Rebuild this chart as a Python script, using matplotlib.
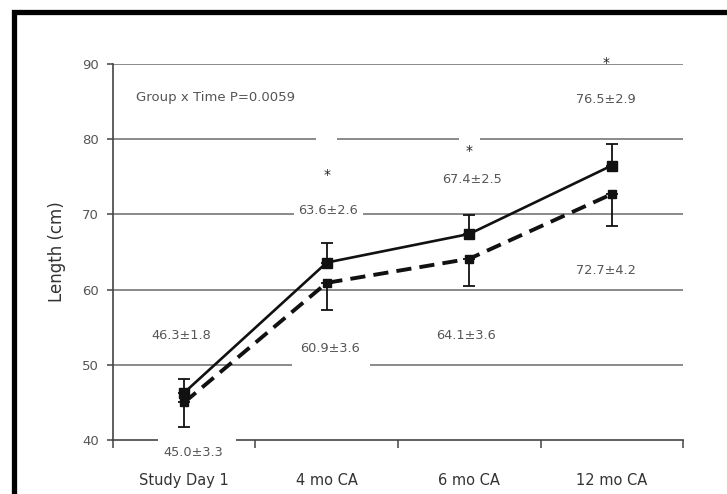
import matplotlib
matplotlib.use("Agg")
import matplotlib.pyplot as plt
from matplotlib.patches import Rectangle
import numpy as np

categories = ["Study Day 1", "4 mo CA", "6 mo CA", "12 mo CA"]
group_a_mean = [46.3, 63.6, 67.4, 76.5]   # solid line
group_a_sd = [1.8, 2.6, 2.5, 2.9]
group_b_mean = [45.0, 60.9, 64.1, 72.7]   # dashed line
group_b_sd = [3.3, 3.6, 3.6, 4.2]
y_ticks = [40, 50, 60, 70, 80, 90]
significant = [False, True, True, True]
stat_text = "Group x Time P=0.0059"

plt.rcParams['font.family'] = ['DejaVu Sans']
fig = plt.figure(figsize=(7.27, 4.94), dpi=100)
ax = fig.add_axes([0.1554, 0.1093, 0.7841, 0.7611])

x = np.arange(len(categories))
txt_col = "#555555"

# gridlines
for yv in y_ticks[1:]:
    ax.axhline(yv, color="#777777", lw=1.2, zorder=1)

# series
ax.errorbar(x, group_a_mean, yerr=[np.zeros(len(x)), group_a_sd], color="#111111",
            lw=1.9, marker="s", ms=6.5, capsize=4, elinewidth=1.3, capthick=1.3, zorder=4)
ax.errorbar(x, group_b_mean, yerr=[group_b_sd, np.zeros(len(x))], color="#111111",
            lw=2.8, ls=(0, (3.9, 2.1)), marker="s", ms=5.5, capsize=4, elinewidth=1.3,
            capthick=1.3, zorder=4)

def lab(m, s):
    return f"{m:.1f}\u00b1{s:.1f}"

box = dict(boxstyle="square,pad=0.35", fc="white", ec="none")
# value labels (positions are layout offsets relative to data)
a_offsets = [(-0.02, 7.6), (0.01, 6.9), (0.02, 7.3), (-0.04, 8.8)]
b_offsets = [(0.06, -6.6), (0.02, -8.7), (-0.02, -10.2), (-0.04, -10.2)]
for i in range(len(categories)):
    dx, dy = a_offsets[i]
    ax.text(x[i] + dx, group_a_mean[i] + dy, lab(group_a_mean[i], group_a_sd[i]),
            ha="center", va="center", fontsize=9.3, color=txt_col, bbox=box, zorder=5,
            clip_on=False)
    dx, dy = b_offsets[i]
    ax.text(x[i] + dx, group_b_mean[i] + dy, lab(group_b_mean[i], group_b_sd[i]),
            ha="center", va="center", fontsize=9.3, color=txt_col, bbox=box, zorder=5,
            clip_on=False)

# asterisks
star_y = [None, 75.2, 78.4, 90.2]
star_dx = [0, 0.0, 0.0, -0.04]
for i, sig in enumerate(significant):
    if sig:
        ax.text(x[i] + star_dx[i], star_y[i], "*", ha="center", va="center",
                fontsize=10, color="#222222", zorder=6, clip_on=False)

# small gaps in the gridlines / axis line (as in the original)
for gx, gy, w in [(1.0, 80, 5), (2.0, 80, 5), (1.03, 50, 20), (0.09, 40, 20)]:
    ax.text(gx, gy, " " * w, ha="center", va="center", fontsize=8.5,
            bbox=dict(boxstyle="square,pad=0.1", fc="white", ec="none"), zorder=3,
            clip_on=False)

ax.text(-0.34, 85.6, stat_text, ha="left", va="center", fontsize=9.5, color=txt_col)

ax.set_xlim(-0.5, len(categories) - 0.5)
ax.set_ylim(40, 90)
ax.set_yticks(y_ticks)
ax.set_xticks(np.arange(len(categories) + 1) - 0.5)
ax.set_xticklabels([])
ax.set_xticks(x, minor=True)
ax.set_xticklabels(categories, minor=True)
ax.tick_params(axis="x", which="minor", length=0, pad=24, labelsize=10.5, labelcolor="#333333")
ax.tick_params(axis="x", which="major", length=6, width=1.1, color="#444444", direction="out")
ax.tick_params(axis="y", length=4, width=1.1, color="#444444", labelsize=9.5,
               labelcolor=txt_col, pad=6)
for s in ["top", "right"]:
    ax.spines[s].set_visible(False)
for s in ["left", "bottom"]:
    ax.spines[s].set_color("#444444")
    ax.spines[s].set_linewidth(1.2)
ax.set_ylabel("Length (cm)", fontsize=12, color="#333333")
ax.yaxis.set_label_coords(-0.082, 0.5)

# black frame around figure (cropped on right/bottom)
fig.patches.append(Rectangle((14.5 / 727, -0.2), 1.2, 1 - 12.5 / 494 + 0.2,
                             transform=fig.transFigure, fill=False, ec="black",
                             lw=3.8, zorder=10))

fig.savefig("out.png", dpi=100)
